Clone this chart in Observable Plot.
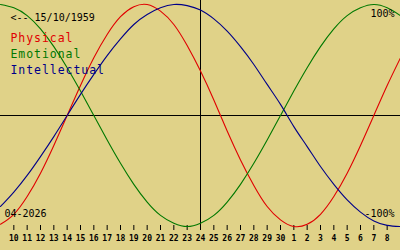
<!DOCTYPE html>
<html>
<head>
<meta charset="utf-8">
<script src="https://cdn.jsdelivr.net/npm/d3@7"></script>
<script src="https://cdn.jsdelivr.net/npm/@observablehq/plot@0.6"></script>
<style>
  html, body { margin: 0; padding: 0; background: #e0d288; }
  #chart svg { display: block; background: #e0d288; }
</style>
</head>
<body>
<div id="chart"></div>
<script>
// Day index 0..30 (0 = 9 April 2026, 15 = 24 April, 30 = 9 May)
const days = d3.range(0, 31);
// Tick labels for day index 1..29
const dayLabels = ["10","11","12","13","14","15","16","17","18","19","20","21","22","23","24","25","26","27","28","29","30","1","2","3","4","5","6","7","8"];
const tickDays = d3.range(1, 30);
const today = 15;

// Cycle values (-1 .. 1)
const physical = [-0.98,-0.89,-0.73,-0.52,-0.27,0,0.27,0.52,0.73,0.89,0.98,1.0,0.94,0.82,0.63,0.40,0.14,-0.14,-0.40,-0.63,-0.82,-0.94,-1.0,-0.98,-0.89,-0.73,-0.52,-0.27,0,0.27,0.52];
const emotional = [1.0,0.97,0.90,0.78,0.62,0.43,0.22,0,-0.22,-0.43,-0.62,-0.78,-0.90,-0.97,-1.0,-0.97,-0.90,-0.78,-0.62,-0.43,-0.22,0,0.22,0.43,0.62,0.78,0.90,0.97,1.0,0.97,0.90];
const intellectual = [-0.82,-0.69,-0.54,-0.37,-0.19,0,0.19,0.37,0.54,0.69,0.82,0.91,0.97,1.0,0.99,0.95,0.87,0.76,0.62,0.46,0.28,0.10,-0.10,-0.28,-0.46,-0.62,-0.76,-0.87,-0.95,-0.99,-1.0];

const seriesNames = ["Physical", "Emotional", "Intellectual"];
const seriesColors = ["#e00000", "#007800", "#000088"];
const seriesValues = [physical, emotional, intellectual];

const birthLabel = "<-- 15/10/1959";
const monthLabel = "04-2026";
const topLabel = "100%";
const bottomLabel = "-100%";

const mono = "DejaVu Sans Mono, monospace";

const lineMarks = seriesValues.map((vals, i) =>
  Plot.line(days, {x: d => d, y: d => vals[d], stroke: seriesColors[i], strokeWidth: 1.1, curve: "natural"})
);

const legendMarks = seriesNames.map((name, i) =>
  Plot.text([name], {
    text: d => d, frameAnchor: "top-left", textAnchor: "start", lineAnchor: "bottom",
    dx: 10, dy: 41 + 16 * i, fill: seriesColors[i], fontFamily: mono, fontSize: 11.5
  })
);

const chart = Plot.plot({
  width: 400,
  height: 250,
  marginTop: 0,
  marginLeft: 0,
  marginRight: 0,
  marginBottom: 25,
  style: {background: "#e0d288", color: "black", overflow: "visible"},
  x: {domain: [0, 30], range: [0, 400], axis: null},
  y: {domain: [-1, 1], range: [226, 4], axis: null},
  marks: [
    Plot.axisX(tickDays, {
      anchor: "bottom", tickSize: 5, tickPadding: 4.5,
      tickFormat: d => dayLabels[d - 1], fontSize: 8, fontWeight: "bold",
      fontFamily: mono, stroke: "black", fill: "black", label: null
    }),
    Plot.ruleY([0], {stroke: "black"}),
    Plot.ruleX([today], {stroke: "black"}),
    ...lineMarks,
    Plot.text([birthLabel], {text: d => d, frameAnchor: "top-left", textAnchor: "start", lineAnchor: "bottom", dx: 10, dy: 20, fontFamily: mono, fontSize: 10, fill: "black"}),
    ...legendMarks,
    Plot.text([topLabel], {text: d => d, frameAnchor: "top-right", textAnchor: "end", lineAnchor: "bottom", dx: -6, dy: 16, fontFamily: mono, fontSize: 10, fill: "black"}),
    Plot.text([bottomLabel], {text: d => d, frameAnchor: "bottom-right", textAnchor: "end", lineAnchor: "bottom", dx: -6, dy: -9, fontFamily: mono, fontSize: 10, fill: "black"}),
    Plot.text([monthLabel], {text: d => d, frameAnchor: "bottom-left", textAnchor: "start", lineAnchor: "bottom", dx: 4, dy: -9, fontFamily: mono, fontSize: 10, fill: "black"})
  ]
});
// widen the legend lettering like the original's fixed-width bitmap font
d3.select(chart).selectAll("text")
  .filter(function () { return seriesNames.includes(this.textContent); })
  .style("letter-spacing", "0.95px");
document.getElementById("chart").appendChild(chart);
</script>
</body>
</html>
